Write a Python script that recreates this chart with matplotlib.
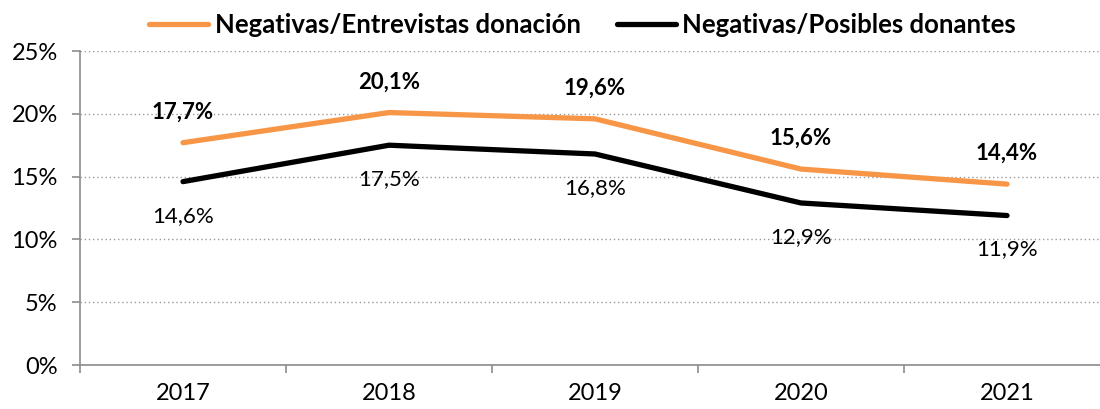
import numpy as np
import matplotlib
matplotlib.use("Agg")
import matplotlib.pyplot as plt
from matplotlib.ticker import FixedLocator, FuncFormatter

# data
years = ["2017", "2018", "2019", "2020", "2021"]
neg_entrevistas = [17.7, 20.1, 19.6, 15.6, 14.4]
neg_posibles = [14.6, 17.5, 16.8, 12.9, 11.9]
series_names = ["Negativas/Entrevistas donación", "Negativas/Posibles donantes"]
yticks = [0, 5, 10, 15, 20, 25]

plt.rcParams["font.family"] = ["Lato", "DejaVu Sans"]

ORANGE = "#F79646"
GRAY = "#8C8C8C"

fig = plt.figure(figsize=(11, 4.09), dpi=100)
ax = fig.add_axes([80 / 1100, 44 / 409, 1030 / 1100, 314 / 409])

x = np.arange(len(years))
ax.plot(x, neg_entrevistas, color=ORANGE, lw=3.8, solid_capstyle="round",
        solid_joinstyle="round", label=series_names[0])
ax.plot(x, neg_posibles, color="black", lw=3.8, solid_capstyle="round",
        solid_joinstyle="round", label=series_names[1])

def fmt(v):
    return f"{v:.1f}".replace(".", ",") + "%"

# orange labels above (bold), black labels below
for xi, v in zip(x, neg_entrevistas):
    ax.annotate(fmt(v), (xi, v), xytext=(0, 22), textcoords="offset points",
                ha="center", va="center", fontsize=16, fontweight="bold")
for xi, v in zip(x, neg_posibles):
    ax.annotate(fmt(v), (xi, v), xytext=(0, -24.5), textcoords="offset points",
                ha="center", va="center", fontsize=16)

ax.set_xlim(-0.5, len(years) - 0.5)
ax.set_ylim(0, 25)

ax.set_yticks(yticks)
ax.yaxis.set_major_formatter(FuncFormatter(lambda v, p: f"{v:.0f}%"))
ax.tick_params(axis="y", direction="out", length=6, width=1.2, color=GRAY,
               labelsize=17, pad=10)

ax.set_xticks(x)
ax.set_xticklabels(years)
ax.xaxis.set_minor_locator(FixedLocator(np.arange(-0.5, len(years), 1.0)))
ax.tick_params(axis="x", which="major", length=0, labelsize=17, pad=13)
ax.tick_params(axis="x", which="minor", direction="out", length=6, width=1.2, color=GRAY)

ax.grid(axis="y", linestyle=(0, (1, 2)), color="#999999", lw=1)
ax.set_axisbelow(True)

for s in ["top", "right"]:
    ax.spines[s].set_visible(False)
for s in ["left", "bottom"]:
    ax.spines[s].set_color(GRAY)
    ax.spines[s].set_linewidth(1.2)
ax.spines["left"].set_bounds(0, 25)

leg = ax.legend(loc="center", bbox_to_anchor=(0.488, 1.083), ncol=2, frameon=False,
                prop={"weight": "bold", "size": 18.5},
                handlelength=2.3, handletextpad=0.25, columnspacing=1.4)

fig.savefig("out.png", dpi=100)
